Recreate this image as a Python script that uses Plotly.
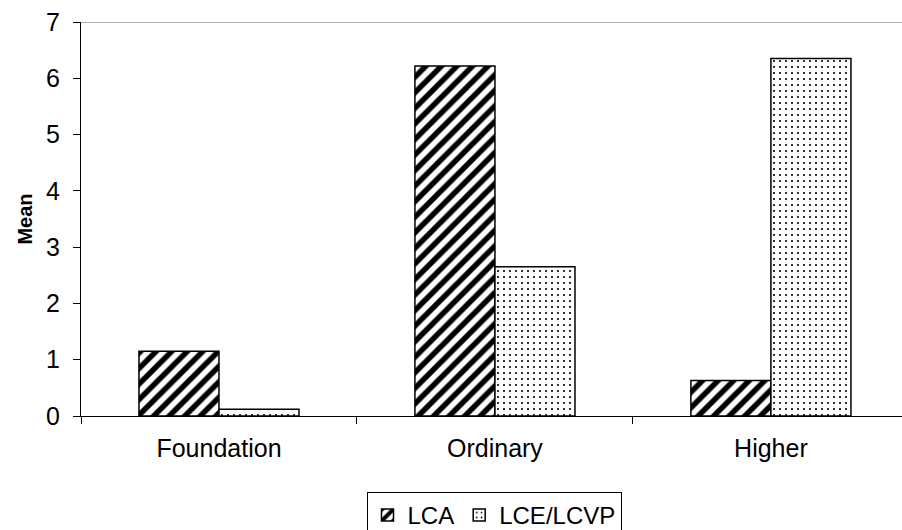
import plotly.graph_objects as go

categories = ["Foundation", "Ordinary", "Higher"]
lca = [1.15, 6.22, 0.63]
lce = [0.12, 2.65, 6.35]
y_ticks = [0, 1, 2, 3, 4, 5, 6, 7]

FONT = "Liberation Sans, Arial, sans-serif"

fig = go.Figure()
fig.add_trace(go.Bar(
    name="LCA", x=categories, y=lca,
    marker=dict(color="white", line=dict(color="black", width=1.5),
                pattern=dict(shape="/", fgcolor="black", bgcolor="white",
                             fgopacity=1, size=11, solidity=0.5)),
))
fig.add_trace(go.Bar(
    name="LCE/LCVP", x=categories, y=lce,
    marker=dict(color="white", line=dict(color="black", width=1.5),
                pattern=dict(shape=".", fgcolor="black", bgcolor="white",
                             fgopacity=1, size=6, solidity=0.1)),
))

fig.update_layout(
    width=902, height=530,
    margin=dict(l=81, r=0, t=22, b=114),
    paper_bgcolor="white", plot_bgcolor="white",
    barmode="group", bargap=0.42, bargroupgap=0,
    font=dict(family=FONT, color="black", size=25),
    showlegend=True,
    legend=dict(orientation="h", xref="container", yref="container",
                x=494/902, xanchor="center", y=1-492/530, yanchor="top",
                bordercolor="black", borderwidth=1, bgcolor="white",
                font=dict(size=24, family=FONT), itemwidth=30,
                tracegroupgap=0, traceorder="normal"),
    xaxis=dict(type="category", range=[-0.5, 2.475], tickson="boundaries",
               ticks="outside", ticklen=7, tickcolor="black",
               showline=True, linecolor="black", linewidth=1,
               mirror=False, showgrid=False, tickfont=dict(size=25),
               ticklabelstandoff=10),
    yaxis=dict(range=[0, 7], tickvals=y_ticks, ticks="outside", ticklen=7,
               tickcolor="black", showline=True, linecolor="black", linewidth=1,
               showgrid=False, zeroline=False, tickfont=dict(size=25),
               ticklabelstandoff=8,
               title=dict(text="<b>Mean</b>", font=dict(size=20), standoff=8)),
)
fig.add_shape(type="line", xref="paper", yref="y", x0=0, x1=1, y0=7, y1=7,
              line=dict(color="#999999", width=1.5))

fig.write_html("out.html")
